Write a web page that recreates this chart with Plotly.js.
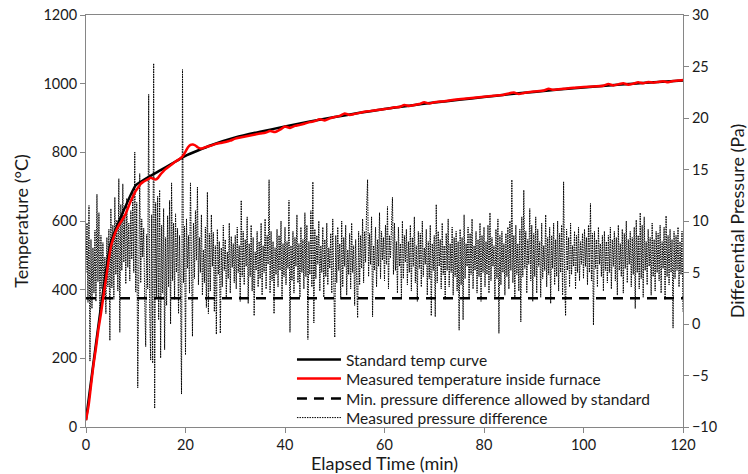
<!DOCTYPE html>
<html>
<head>
<meta charset="utf-8">
<script src="https://cdn.plot.ly/plotly-3.0.1.min.js"></script>
<style>html,body{margin:0;padding:0;background:#fff;}#chart{width:748px;height:474px;}</style>
</head>
<body>
<div id="chart"></div>
<script>
// Standard temperature curve (°C) read at 5-min marks
const stdTime = [0,5,10,15,20,25,30,35,40,45,50,55,60,65,70,75,80,85,90,95,100,105,110,115,120];
const stdTemp = [20,538,704,748,790,820,843,860,875,890,903,915,926,936,945,953,961,969,976,983,989,995,1000,1005,1009];

// Measured furnace temperature (°C)
const measTime = [0,0.5,1,1.5,2,2.5,3,3.5,4,4.5,5,5.5,6,6.5,7,7.5,8,8.5,9,9.5,10,10.5,11,11.5,12,12.5,13,13.5,14,14.5,15,15.5,16,17,18,19,19.5,20,20.5,21,21.5,22,22.5,23,23.5,24,25,26,27,28,29,
30,31,32,33,34,35,36,37,38,39,40,41,42,43,44,45,46,47,48,49,50,51,52,53,54,55,56,57,58,59,60,61,62,63,64,65,66,67,68,69,70,
72,74,76,78,80,82,84,86,87,88,90,92,93,94,96,98,100,102,104,105,106,107,108,109,110,111,112,113,114,115,116,117,118,119,120];
const measTemp = [20,60,120,180,230,285,330,380,430,480,525,550,570,585,597,608,622,640,658,673,688,698,708,714,718,722,726,723,721,726,736,744,751,762,773,783,790,802,815,822,823,820,814,811,812,815,819,824,827,830,834,
840,843,846,849,852,855,857,862,859,866,875,871,877,880,884,888,891,896,893,899,903,906,913,909,912,915,918,920,922,924,926,928,931,932,938,935,938,941,946,942,946,
949,953,956,959,962,965,968,974,970,973,977,980,985,982,985,988,990,992,994,999,995,998,1001,997,1000,1004,1001,1005,1003,1005,1007,1004,1008,1009,1011];

// Minimum pressure difference allowed by standard (Pa)
const minPressTime = [0,120];
const minPress = [2.5,2.5];

// Measured pressure difference (Pa), one reading every 0.2 min from 0 to 120 min
const pressStep = 0.2;
const pressure = [
5.0,9.8,2.1,11.5,-3.6,8.2,1.5,7.4,3.0,9.1,2.2,12.6,4.1,10.8,1.2,8.6,3.4,7.9,2.8,6.5,1.0,8.4,3.6,9.2,-1.6,
11.2,3.5,9.6,2.4,12.3,4.8,10.1,3.2,14.1,-0.8,11.6,5.2,13.6,6.0,10.4,3.9,12.2,5.5,9.8,4.2,11.0,6.3,13.1,5.0,16.7,
3.1,11.8,-6.2,9.4,14.6,4.0,10.2,6.5,9.3,2.5,-2.2,8.7,3.4,22.3,1.5,-3.5,10.6,-3.8,25.3,-8.2,11.8,2.6,12.4,0.4,13.0,
-3.3,9.6,3.0,11.2,-2.5,8.4,1.8,10.5,3.6,12.0,0.0,13.7,4.2,9.8,2.4,10.7,5.0,9.3,1.0,8.6,3.2,-6.8,24.7,4.0,9.5,
-3.0,10.2,5.4,8.6,3.0,13.7,2.5,-1.2,9.8,4.4,11.0,6.2,13.3,3.8,8.4,5.0,10.6,2.8,7.2,4.0,9.4,1.6,12.8,1.0,8.8,
3.2,10.6,5.6,8.9,1.2,7.6,-1.0,9.2,4.8,8.0,-0.9,7.4,3.6,9.6,5.2,8.2,2.6,7.0,4.4,9.8,3.0,8.5,5.5,7.8,4.0,
8.6,3.4,9.4,5.0,7.6,2.2,12.0,4.6,9.0,3.8,8.2,5.6,10.4,2.0,7.8,4.6,9.6,3.2,8.4,0.8,7.0,5.2,9.0,3.6,8.0,
4.4,9.8,2.8,7.6,5.0,10.2,3.4,8.6,5.8,14.0,3.0,9.0,4.2,8.0,1.0,7.4,4.8,9.2,3.6,8.6,5.2,10.0,2.4,7.8,4.6,
9.4,3.8,8.0,5.4,12.0,-0.8,7.6,4.2,9.0,3.0,8.4,5.6,10.6,4.0,7.8,2.6,9.4,5.0,8.2,3.4,10.8,4.6,9.6,-1.5,8.0,
4.8,11.0,3.6,13.8,0.1,9.2,4.4,8.6,5.8,10.0,3.2,7.6,5.0,9.4,2.6,8.2,4.6,9.8,3.8,7.4,5.4,8.8,3.0,10.2,4.2,
-1.3,8.6,4.0,9.4,5.2,7.8,2.4,10.0,3.6,8.4,5.6,9.6,2.8,7.2,4.8,8.8,3.4,9.8,5.0,7.6,1.8,8.2,4.4,0.6,9.0,
3.8,8.6,5.4,10.2,4.0,9.0,6.0,11.2,14.0,4.6,8.8,5.8,10.4,0.7,7.6,5.2,9.4,3.6,8.2,5.6,10.8,4.4,9.0,6.2,8.4,
4.2,9.6,5.8,11.4,3.4,8.6,6.4,10.2,12.3,4.8,9.8,5.2,8.0,3.0,9.4,5.6,7.8,2.6,10.0,4.4,8.6,6.0,9.2,3.8,8.0,
5.0,9.6,3.2,8.4,5.6,10.4,4.0,7.6,2.2,9.0,5.4,8.8,3.6,10.0,4.6,7.4,5.8,9.2,2.8,8.0,4.4,9.6,0.8,7.8,5.2,
8.6,0.7,11.6,4.0,9.0,5.6,8.2,3.4,9.8,4.8,7.6,2.4,8.8,5.2,10.2,3.6,7.8,5.0,9.4,2.8,8.4,4.6,9.0,3.2,8.0,
-0.6,9.2,3.8,8.4,0.4,10.6,4.4,7.8,5.6,9.4,2.6,8.8,4.8,10.2,3.4,7.6,5.2,9.0,3.0,8.2,4.6,9.8,2.2,8.6,5.0,
9.4,3.6,8.0,4.8,9.6,3.0,10.8,4.2,8.4,5.6,7.6,2.4,9.2,4.4,10.2,-0.9,8.6,3.8,9.0,5.0,7.8,2.8,8.8,4.6,9.4,
3.4,10.0,5.2,14.0,4.0,8.6,2.6,9.6,4.8,7.8,3.2,9.2,0.2,10.4,4.6,13.0,5.4,9.0,3.0,8.2,5.8,11.2,4.2,9.6,2.2,
8.8,4.6,10.4,3.0,9.2,5.6,8.0,2.6,9.8,4.4,7.6,5.2,10.6,3.6,8.4,4.8,9.4,2.0,8.6,5.4,9.8,3.8,8.2,4.6,10.0,
3.2,8.8,5.0,9.6,2.8,13.8,4.4,0.8,9.2,5.2,8.4,3.6,9.8,4.8,7.6,5.6,9.0,3.4,8.6,5.0,9.4,4.2,8.0,5.8,8.8,
4.4,9.2,5.6,8.4,3.8,9.6,5.0,11.7,4.2,8.8,-0.1,9.0,5.4,8.2,3.6,9.4,5.8,7.8,4.6,8.6,3.2,9.0,5.2,8.0,4.0,
8.6,5.0,9.4,3.4,8.2,5.6,9.0,4.2,8.4,2.8,9.6,5.2,7.8,4.6,9.2,3.0,8.8,5.4,10.0,4.0,8.2,5.8,9.0,3.6,8.4,
4.8,9.4,1.5,10.1,5.0,8.6,3.4,10.8,4.4,9.6,2.6,10.4,5.2,8.0,3.8,9.2,5.6,8.4,2.8,9.8,4.6,8.2,3.2,9.0,5.0,
8.8,4.2,9.6,3.0,8.0,5.4,9.4,2.4,10.5,4.6,8.6,3.8,9.2,5.0,8.2,-0.4,9.0,4.4,8.6,5.2,9.4,3.6,8.0,4.8,9.0,1.2
];
const pressTime = pressure.map((_, i) => +(i * pressStep).toFixed(1));

const xTicks = [0,20,40,60,80,100,120];
const tempTicks = [0,200,400,600,800,1000,1200];
const pressTicks = [-10,-5,0,5,10,15,20,25,30];

const FONT = 'Lato, "Open Sans", sans-serif';
const AXC = '#868686';
const TXT = '#1a1a1a';

const traces = [
  {x: pressTime, y: pressure, yaxis: 'y', type: 'scatter', mode: 'lines',
   name: 'Measured pressure difference', legend: 'legend4',
   line: {color: '#000', width: 1, dash: '1.5px,1px'}},
  {x: minPressTime, y: minPress, yaxis: 'y', type: 'scatter', mode: 'lines',
   name: 'Min. pressure difference allowed by standard', legend: 'legend3',
   line: {color: '#000', width: 2.5, dash: '10px,7px'}},
  {x: stdTime, y: stdTemp, yaxis: 'y2', type: 'scatter', mode: 'lines',
   name: 'Standard temp curve', legend: 'legend',
   line: {color: '#000', width: 2.5, shape: 'spline', smoothing: 0.3}},
  {x: measTime, y: measTemp, yaxis: 'y2', type: 'scatter', mode: 'lines',
   name: 'Measured temperature inside furnace', legend: 'legend2',
   line: {color: '#ff0000', width: 2.5, shape: 'spline', smoothing: 0.6}}
];

function leg(yc) {
  return {x: 0.345, y: yc, xanchor: 'left', yanchor: 'middle',
          bgcolor: 'rgba(0,0,0,0)', borderwidth: 0,
          font: {family: FONT, size: 15.5, color: TXT}, itemwidth: 44};
}

const layout = {
  width: 748, height: 474,
  margin: {l: 86, r: 65, t: 15, b: 47},
  paper_bgcolor: '#fff', plot_bgcolor: '#fff',
  font: {family: FONT, color: TXT, size: 14},
  showlegend: true,
  legend: leg(0.1626), legend2: leg(0.1165), legend3: leg(0.068), legend4: leg(0.0218),
  xaxis: {range: [0,120], tickvals: xTicks, ticktext: xTicks.map(String), automargin: false,
          showline: true, linecolor: AXC, linewidth: 1, mirror: true,
          ticks: 'outside', ticklen: 5, tickcolor: AXC, showgrid: false, zeroline: false,
          tickfont: {size: 14.5},
          title: {text: 'Elapsed Time (min)', font: {size: 18}, standoff: 0}},
  yaxis: {range: [-10,30], tickvals: pressTicks, side: 'right', automargin: false,
          showline: true, linecolor: AXC, linewidth: 1,
          ticks: 'outside', ticklen: 5, tickcolor: AXC, showgrid: false, zeroline: false,
          tickfont: {size: 14.5},
          title: {text: 'Differential Pressure (Pa)', font: {size: 18}, standoff: 16}},
  yaxis2: {range: [0,1200], tickvals: tempTicks, side: 'left', overlaying: 'y', automargin: false,
          showline: true, linecolor: AXC, linewidth: 1,
          ticks: 'outside', ticklen: 5, tickcolor: AXC, showgrid: false, zeroline: false,
          tickfont: {size: 14.5},
          title: {text: 'Temperature (°C)', font: {size: 18}, standoff: 10}}
};

Plotly.newPlot('chart', traces, layout, {staticPlot: true, displayModeBar: false});
</script>
</body>
</html>
